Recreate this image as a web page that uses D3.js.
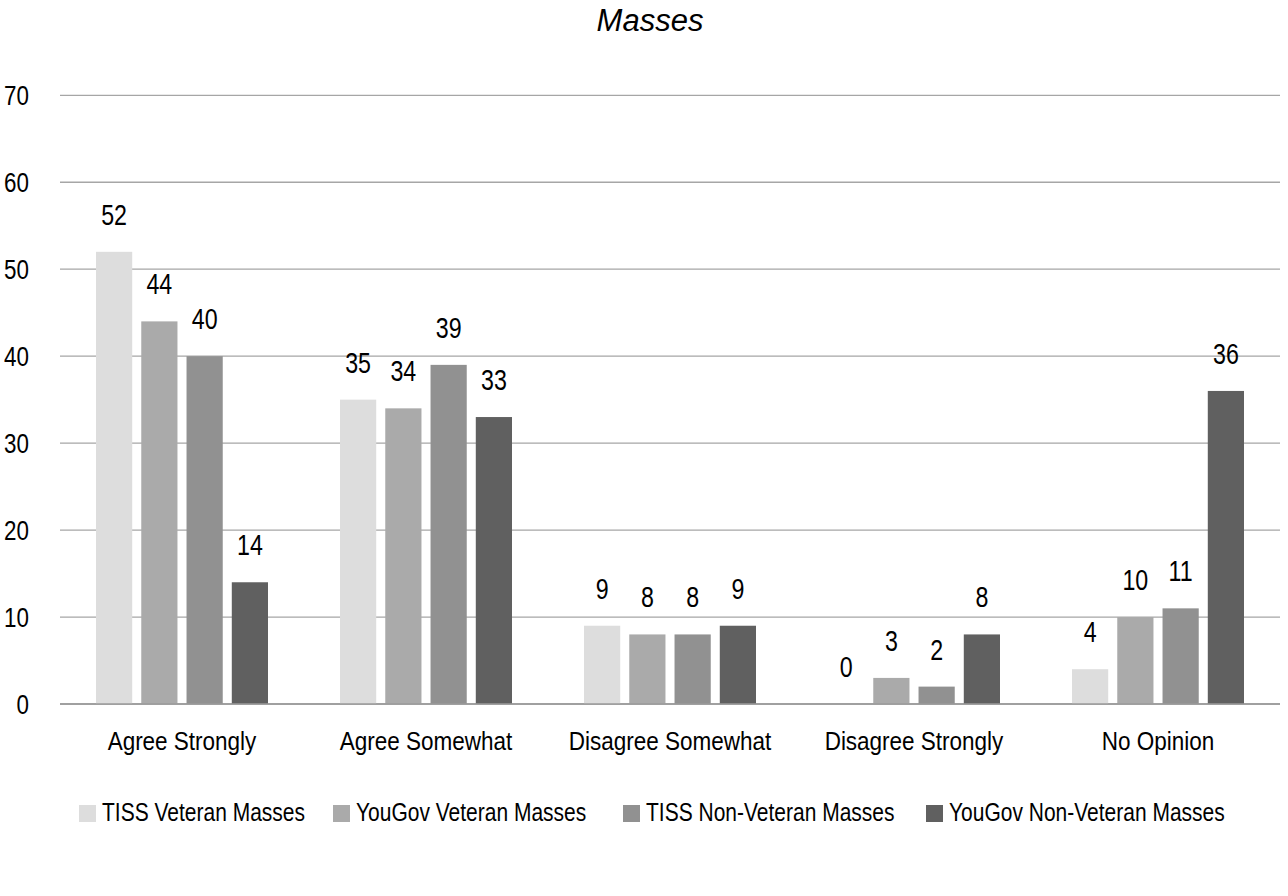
<!DOCTYPE html>
<html><head><meta charset="utf-8">
<script src="https://cdn.jsdelivr.net/npm/d3@7/dist/d3.min.js"></script>
<style>
body{margin:0;background:#fff;}
text{font-family:"Liberation Sans","Arial",sans-serif;fill:#000;}
</style></head><body>
<svg id="c" width="1288" height="896"></svg>
<script>
const categories = ["Agree Strongly","Agree Somewhat","Disagree Somewhat","Disagree Strongly","No Opinion"];
const seriesNames = ["TISS Veteran Masses","YouGov Veteran Masses","TISS Non-Veteran Masses","YouGov Non-Veteran Masses"];
const tissVeteran = [52,35,9,0,4];
const yougovVeteran = [44,34,8,3,10];
const tissNonVeteran = [40,39,8,2,11];
const yougovNonVeteran = [14,33,9,8,36];
const yTicks = [0,10,20,30,40,50,60,70];
const colors = ["#dddddd","#aaaaaa","#919191","#606060"];
const seriesValues = [tissVeteran,yougovVeteran,tissNonVeteran,yougovNonVeteran];

(function(){
const svg = d3.select("#c");
const pLeft=60,pRight=1280,pTop=95.3,pBottom=704;
const y = d3.scaleLinear().domain([0,70]).range([pBottom,pTop]);
const x0 = d3.scaleBand().domain(categories).range([pLeft,pRight]).padding(0);
const x1 = d3.scaleBand().domain(seriesNames).range([36,x0.bandwidth()-36]).paddingInner(0.2).paddingOuter(0);

// condensed text helper (horizontal compression of a regular sans)
function ctext(sel, x, yy, str, size, sx, anchor){
  return sel.append("text")
    .attr("transform",`translate(${x},${yy}) scale(${sx},1)`)
    .attr("text-anchor",anchor||"start")
    .style("font-size",size+"px").text(str);
}

svg.append("text").attr("x",650).attr("y",31).attr("text-anchor","middle")
  .style("font-size","31px").style("font-style","italic").text("Masses");

svg.append("g").selectAll("line").data(yTicks).join("line")
  .attr("x1",pLeft).attr("x2",pRight).attr("y1",d=>y(d)).attr("y2",d=>y(d))
  .attr("stroke",d=>d===0?"#9a9a9a":"#a6a6a6").attr("stroke-width",1.3);
const ty = svg.append("g");
yTicks.forEach(d=>ctext(ty,29,y(d)+10,d,28,0.8,"end"));

const g = svg.append("g");
categories.forEach((c,i)=>{
  const gg = g.append("g").attr("transform",`translate(${x0(c)},0)`);
  seriesNames.forEach((s,j)=>{
    const v = seriesValues[j][i];
    gg.append("rect").attr("x",x1(s)).attr("width",x1.bandwidth())
      .attr("y",y(v)).attr("height",pBottom-y(v)).attr("fill",colors[j]);
    ctext(gg, x1(s)+x1.bandwidth()/2, y(v)-27, v, 29, 0.8, "middle");
  });
});
svg.append("line").attr("x1",pLeft).attr("x2",pRight).attr("y1",y(0)).attr("y2",y(0))
  .attr("stroke","#9a9a9a").attr("stroke-width",1.3);

const cg = svg.append("g");
categories.forEach(d=>ctext(cg, x0(d)+x0.bandwidth()/2, 750, d, 25, 0.9, "middle"));

const legX=[79,333,623,926];
const lg = svg.append("g");
seriesNames.forEach((s,j)=>{
  lg.append("rect").attr("x",legX[j]).attr("y",805).attr("width",17).attr("height",17).attr("fill",colors[j]);
  ctext(lg, legX[j]+23, 821, s, 25, 0.84, "start");
});
})();
</script></body></html>
